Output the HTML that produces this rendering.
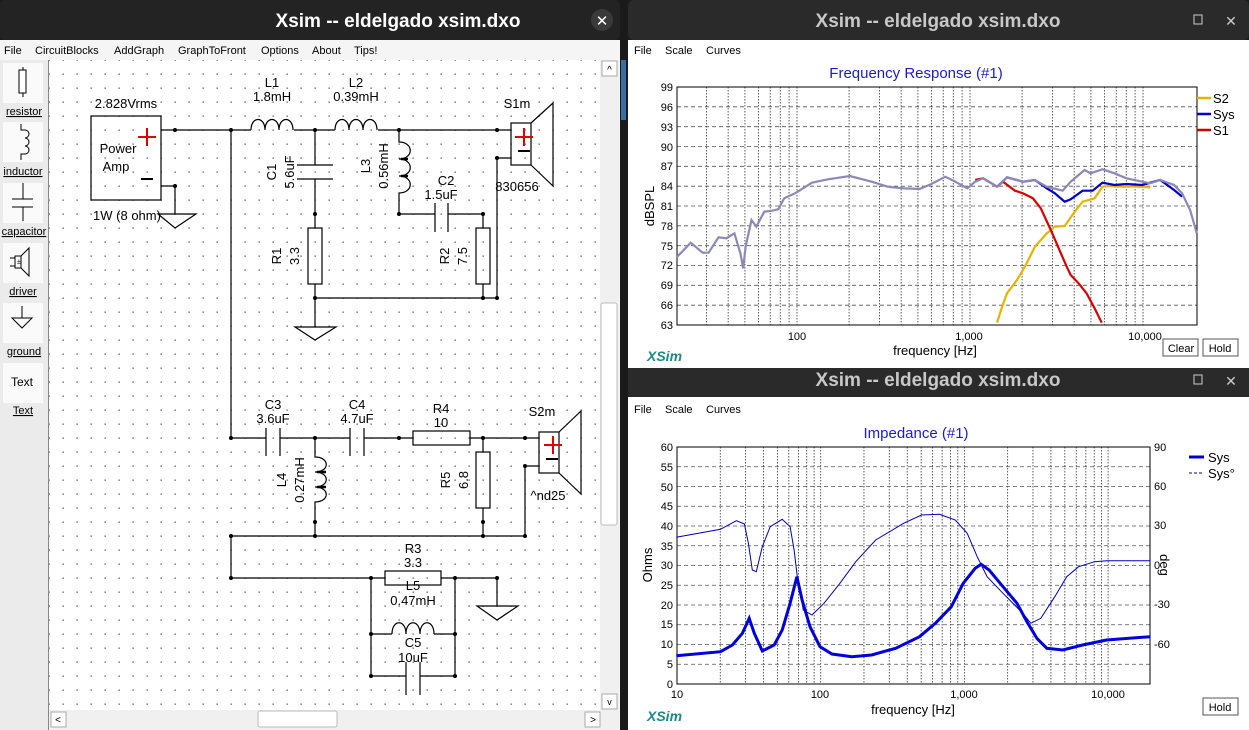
<!DOCTYPE html>
<html><head><meta charset="utf-8"><style>
html,body{margin:0;padding:0;background:#1c1c1c;width:1249px;height:730px;overflow:hidden}
svg{display:block}
text{font-family:"Liberation Sans",sans-serif}
</style></head><body>
<svg id="s" width="1249" height="730" xmlns="http://www.w3.org/2000/svg">
<defs>
<pattern id="dots" x="0" y="0" width="14" height="14" patternUnits="userSpaceOnUse">
<rect x="6.5" y="3.5" width="1.3" height="1.3" fill="#555"/>
</pattern>
</defs>
<!-- desktop gap -->
<rect x="619" y="0" width="10" height="730" fill="#1a1a1a"/>
<rect x="621" y="60" width="5" height="60" fill="#3a6ea0"/>
<!-- LEFT WINDOW -->
<rect x="0" y="0" width="620" height="40" fill="#232323" rx="6"/>
<text x="398" y="27" font-size="19" font-weight="bold" fill="#fff" text-anchor="middle">Xsim -- eldelgado xsim.dxo</text>
<circle cx="602" cy="20" r="11" fill="#3a3a3a"/>
<text x="602" y="26" font-size="15" fill="#fff" text-anchor="middle">✕</text>
<rect x="0" y="40" width="620" height="690" fill="#f5f5f5"/>
<g font-size="11" fill="#000">
<text x="4" y="54">File</text><text x="35" y="54">CircuitBlocks</text><text x="114" y="54">AddGraph</text>
<text x="178" y="54">GraphToFront</text><text x="261" y="54">Options</text><text x="312" y="54">About</text><text x="354" y="54">Tips!</text>
</g>
<!-- toolbox -->
<rect x="0" y="60" width="48" height="670" fill="#ebebeb"/>
<line x1="48.5" y1="60" x2="48.5" y2="730" stroke="#888"/>
<g fill="#fafafa"><rect x="3" y="63" width="40" height="40"/><rect x="3" y="122" width="40" height="40"/><rect x="3" y="183" width="40" height="40"/><rect x="3" y="243" width="40" height="40"/><rect x="3" y="303" width="40" height="40"/><rect x="3" y="363" width="40" height="40"/></g>
<g stroke="#000" fill="none" stroke-width="1">
<line x1="23" y1="67" x2="23" y2="97"/><rect x="19" y="70" width="7" height="23" fill="#fff"/>
<path d="M21 124 v6 h4 a4 4 0 0 1 0 8 a4 4 0 0 1 0 8 a4 4 0 0 1 0 8 h-4 v6"/>
<line x1="23" y1="183" x2="23" y2="199"/><line x1="12" y1="199" x2="33" y2="199"/><line x1="12" y1="207" x2="33" y2="207"/><line x1="23" y1="207" x2="23" y2="221"/>
<rect x="15" y="256" width="6" height="12"/><path d="M21 256 l8 -8 v28 l-8 -8"/><line x1="10" y1="258" x2="15" y2="258"/><line x1="10" y1="266" x2="15" y2="266"/>
<line x1="22" y1="306" x2="22" y2="318"/><path d="M12 318 h20 l-10 10 z"/>
</g>
<text x="17" y="264" font-size="7">±</text>
<g font-size="11" fill="#000" text-anchor="middle" text-decoration="underline">
<text x="24" y="115">resistor</text><text x="23" y="175">inductor</text><text x="24" y="235">capacitor</text><text x="23" y="295">driver</text><text x="24" y="355">ground</text><text x="23" y="414">Text</text>
</g>
<text x="22" y="386" font-size="12" text-anchor="middle">Text</text>
<!-- canvas -->
<rect x="49" y="60" width="551" height="650" fill="#fff"/>
<rect x="49" y="60" width="551" height="650" fill="url(#dots)"/>
<!-- scrollbars -->
<rect x="600" y="60" width="19" height="650" fill="#f0f0f0"/>
<rect x="602" y="61" width="15" height="15" fill="#fff" stroke="#aaa"/><text x="609.5" y="73" font-size="10" text-anchor="middle">^</text>
<rect x="601" y="303" width="16" height="222" fill="#fff" stroke="#bbb" rx="2"/>
<rect x="602" y="694" width="15" height="15" fill="#fff" stroke="#aaa"/><text x="609.5" y="705" font-size="9" text-anchor="middle">v</text>
<rect x="49" y="710" width="570" height="19" fill="#f0f0f0"/>
<rect x="51" y="712" width="15" height="15" fill="#fff" stroke="#aaa"/><text x="58" y="723" font-size="10" text-anchor="middle">&lt;</text>
<rect x="585" y="712" width="15" height="15" fill="#fff" stroke="#aaa"/><text x="593" y="723" font-size="10" text-anchor="middle">&gt;</text>
<rect x="258" y="711" width="79" height="16" fill="#fff" stroke="#bbb" rx="2"/>
<!-- schematic -->
<g stroke="#000" stroke-width="1.2" fill="none">
<rect x="91" y="116" width="70" height="84"/>
<path d="M161 130 H251 M294 130 H335 M378 130 H511"/>
<path d="M251 130 c0 -14 14 -14 14 0 c0 -14 14 -14 14 0 c0 -14 14 -14 14 0"/>
<path d="M335 130 c0 -14 14 -14 14 0 c0 -14 14 -14 14 0 c0 -14 14 -14 14 0"/>
<path d="M161 186 H175 V214 M158 214 H196 L175 228 Z"/>
<path d="M231 130 V438"/>
<path d="M315 130 V165 M297 165 H333 M297 179 H333 M315 179 V228 M315 284 V327 M295 327 H336 L315 340 Z"/>
<rect x="308" y="228" width="14" height="56"/>
<path d="M399 130 V142 c15 0 15 17 0 17 c15 0 15 17 0 17 c15 0 15 17 0 17 V214 H435 M448 214 H483 V228 M483 284 V298"/>
<path d="M401 159 H408 M401 176 H408" stroke-width="2.5"/>
<path d="M435 203 V232 M448 203 V232"/>
<rect x="476" y="228" width="14" height="56"/>
<path d="M315 298 H497 V158 H511"/>
<rect x="511" y="123" width="20" height="42"/><path d="M531 123 L553 103 V186 L531 165"/>
<!-- lower -->
<path d="M231 438 H266 M280 438 H350 M364 438 H413 M470 438 H539 M266 428 V456 M280 428 V456 M350 428 V456 M364 428 V456"/>
<rect x="413" y="431" width="57" height="14"/>
<path d="M315 438 V457 c15 0 15 15 0 15 c15 0 15 15 0 15 c15 0 15 15 0 15 V536"/>
<path d="M317 472 H326 M317 487 H326" stroke-width="2.5"/>
<path d="M483 438 V452 M483 508 V536"/><rect x="476" y="452" width="14" height="56"/>
<rect x="539" y="432" width="20" height="41"/><path d="M559 432 L581 411 V494 L559 473"/>
<path d="M539 466 H525 V536 H231 V578 H385 M441 578 H497 V606 M477 606 H518 L497 620 Z"/>
<rect x="385" y="571" width="56" height="14"/>
<path d="M371 578 V676 H406 M420 676 H455 V578 M371 634 H392 M434 634 H455 M406 662 V695 M420 662 V695"/>
<path d="M392 634 c0 -15 14 -15 14 0 c0 -15 14 -15 14 0 c0 -15 14 -15 14 0"/>
</g>
<g fill="#000">
<circle cx="175" cy="130" r="2"/><circle cx="231" cy="130" r="2"/><circle cx="315" cy="130" r="2"/><circle cx="399" cy="130" r="2"/><circle cx="497" cy="130" r="2"/><circle cx="497" cy="158" r="2"/><circle cx="175" cy="186" r="2"/>
<circle cx="315" cy="214" r="2"/><circle cx="399" cy="214" r="2"/><circle cx="483" cy="214" r="2"/><circle cx="315" cy="298" r="2"/><circle cx="483" cy="298" r="2"/><circle cx="497" cy="298" r="2"/>
<circle cx="231" cy="438" r="2"/><circle cx="315" cy="438" r="2"/><circle cx="399" cy="438" r="2"/><circle cx="483" cy="438" r="2"/><circle cx="525" cy="438" r="2"/><circle cx="525" cy="466" r="2"/>
<circle cx="315" cy="522" r="2"/><circle cx="483" cy="522" r="2"/><circle cx="231" cy="536" r="2"/><circle cx="315" cy="536" r="2"/><circle cx="483" cy="536" r="2"/><circle cx="525" cy="536" r="2"/>
<circle cx="231" cy="578" r="2"/><circle cx="371" cy="578" r="2"/><circle cx="455" cy="578" r="2"/><circle cx="497" cy="578" r="2"/><circle cx="371" cy="634" r="2"/><circle cx="455" cy="634" r="2"/><circle cx="371" cy="676" r="2"/><circle cx="455" cy="676" r="2"/>
</g>
<g stroke="#e00000" stroke-width="2"><path d="M147 128 V146 M138 137 H156 M524 128 V146 M515 137 H533 M553 436 V454 M544 445 H562"/></g>
<g stroke="#000" stroke-width="2"><path d="M141 179 H153 M518 151 H530 M546 459 H558"/></g>
<g font-size="13" fill="#000" text-anchor="middle">
<text x="126" y="108">2.828Vrms</text><text x="118" y="153">Power</text><text x="116" y="171">Amp</text><text x="127" y="220">1W (8 ohm)</text>
<text x="272" y="87">L1</text><text x="272" y="101">1.8mH</text><text x="356" y="87">L2</text><text x="356" y="101">0.39mH</text>
<text x="517" y="108">S1m</text><text x="517" y="191">830656</text>
<text x="446" y="185">C2</text><text x="441" y="199">1.5uF</text>
<text x="273" y="409">C3</text><text x="273" y="423">3.6uF</text><text x="357" y="409">C4</text><text x="357" y="423">4.7uF</text>
<text x="441" y="413">R4</text><text x="441" y="427">10</text><text x="542" y="416">S2m</text><text x="548" y="500">^nd25</text>
<text x="413" y="553">R3</text><text x="413" y="567">3.3</text><text x="413" y="590">L5</text><text x="413" y="605">0.47mH</text><text x="413" y="647">C5</text><text x="413" y="662">10uF</text>
<text transform="translate(276,172) rotate(-90)">C1</text><text transform="translate(294,172) rotate(-90)">5.6uF</text>
<text transform="translate(370,166) rotate(-90)">L3</text><text transform="translate(388,166) rotate(-90)">0.56mH</text>
<text transform="translate(281,256) rotate(-90)">R1</text><text transform="translate(299,256) rotate(-90)">3.3</text>
<text transform="translate(449,256) rotate(-90)">R2</text><text transform="translate(467,256) rotate(-90)">7.5</text>
<text transform="translate(286,480) rotate(-90)">L4</text><text transform="translate(304,480) rotate(-90)">0.27mH</text>
<text transform="translate(450,480) rotate(-90)">R5</text><text transform="translate(468,480) rotate(-90)">6.8</text>
</g>

<!-- RIGHT TOP WINDOW -->
<rect x="628" y="0" width="621" height="40" fill="#2a2a2a" rx="6"/>
<text x="938" y="27" font-size="19" font-weight="bold" fill="#c8c8c8" text-anchor="middle">Xsim -- eldelgado xsim.dxo</text>
<rect x="1194" y="15" width="8" height="9" fill="none" stroke="#ccc"/><text x="1231" y="26" font-size="14" fill="#ccc" text-anchor="middle">✕</text>
<rect x="628" y="40" width="621" height="328" fill="#fff"/>
<g font-size="11" fill="#000"><text x="634" y="54">File</text><text x="665" y="54">Scale</text><text x="706" y="54">Curves</text></g>
<text x="916" y="78" font-size="15" fill="#1c1ccc" text-anchor="middle">Frequency Response (#1)</text>
<g id="fgrid"></g>
<rect x="677" y="87" width="520" height="238" fill="none" stroke="#000"/>
<g font-size="11" fill="#000" text-anchor="end">
<text x="673" y="91">99</text><text x="673" y="111">96</text><text x="673" y="131">93</text><text x="673" y="151">90</text><text x="673" y="170">87</text><text x="673" y="190">84</text><text x="673" y="210">81</text><text x="673" y="230">78</text><text x="673" y="250">75</text><text x="673" y="269">72</text><text x="673" y="289">69</text><text x="673" y="309">66</text><text x="673" y="329">63</text>
</g>
<g font-size="11" fill="#000" text-anchor="middle"><text x="797" y="340">100</text><text x="969" y="340">1,000</text><text x="1145" y="340">10,000</text></g>
<text x="935" y="355" font-size="13" text-anchor="middle">frequency [Hz]</text>
<text transform="translate(654,206) rotate(-90)" font-size="13" text-anchor="middle">dBSPL</text>
<text x="647" y="361" font-size="14" font-weight="bold" font-style="italic" fill="#1a8a8a">XSim</text>
<g stroke-width="2.5"><line x1="1197" y1="98" x2="1211" y2="98" stroke="#e8b400"/><line x1="1197" y1="114" x2="1211" y2="114" stroke="#0000cc"/><line x1="1197" y1="130" x2="1211" y2="130" stroke="#cc0000"/></g>
<g font-size="13" fill="#000"><text x="1213" y="103">S2</text><text x="1213" y="119">Sys</text><text x="1213" y="135">S1</text></g>
<g font-size="11" text-anchor="middle"><rect x="1163" y="339" width="35" height="17" fill="#fff" stroke="#555"/><text x="1181" y="352">Clear</text>
<rect x="1203" y="339" width="35" height="17" fill="#fff" stroke="#555"/><text x="1220" y="352">Hold</text></g>
<g id="fcurves"></g>

<!-- RIGHT BOTTOM WINDOW -->
<rect x="628" y="368" width="621" height="29" fill="#2a2a2a"/>
<text x="938" y="386" font-size="19" font-weight="bold" fill="#c8c8c8" text-anchor="middle">Xsim -- eldelgado xsim.dxo</text>
<rect x="1194" y="375" width="8" height="9" fill="none" stroke="#ccc"/><text x="1231" y="386" font-size="14" fill="#ccc" text-anchor="middle">✕</text>
<rect x="628" y="397" width="621" height="333" fill="#fff"/>
<g font-size="11" fill="#000"><text x="634" y="413">File</text><text x="665" y="413">Scale</text><text x="706" y="413">Curves</text></g>
<text x="916" y="438" font-size="15" fill="#1c1ccc" text-anchor="middle">Impedance (#1)</text>
<g id="igrid"></g>
<rect x="677" y="447" width="473" height="237" fill="none" stroke="#000"/>
<g font-size="11" fill="#000" text-anchor="end">
<text x="673" y="451">60</text><text x="673" y="471">55</text><text x="673" y="491">50</text><text x="673" y="510">45</text><text x="673" y="530">40</text><text x="673" y="550">35</text><text x="673" y="569">30</text><text x="673" y="589">25</text><text x="673" y="609">20</text><text x="673" y="628">15</text><text x="673" y="648">10</text><text x="673" y="668">5</text><text x="673" y="688">0</text>
</g>
<g font-size="11" fill="#000"><text x="1154" y="451">90</text><text x="1154" y="490">60</text><text x="1154" y="529">30</text><text x="1154" y="569">0</text><text x="1154" y="608">-30</text><text x="1154" y="648">-60</text></g>
<g font-size="11" fill="#000" text-anchor="middle"><text x="677" y="698">10</text><text x="820" y="698">100</text><text x="964" y="698">1,000</text><text x="1108" y="698">10,000</text></g>
<text x="913" y="714" font-size="13" text-anchor="middle">frequency [Hz]</text>
<text transform="translate(652,565) rotate(-90)" font-size="13" text-anchor="middle">Ohms</text>
<text transform="translate(1160,565) rotate(90)" font-size="13" text-anchor="middle">deg</text>
<text x="647" y="721" font-size="14" font-weight="bold" font-style="italic" fill="#1a8a8a">XSim</text>
<line x1="1189" y1="457" x2="1204" y2="457" stroke="#0000cc" stroke-width="3"/>
<line x1="1189" y1="473" x2="1204" y2="473" stroke="#0000aa" stroke-width="1" stroke-dasharray="3,2"/>
<g font-size="13" fill="#000"><text x="1208" y="462">Sys</text><text x="1208" y="478">Sys°</text></g>
<rect x="1203" y="698" width="35" height="17" fill="#fff" stroke="#555"/><text x="1220" y="711" font-size="11" text-anchor="middle">Hold</text>
<g id="icurves"></g>
</svg>
<script>
var NS="http://www.w3.org/2000/svg";
function el(p,t,a){var e=document.createElementNS(NS,t);for(var k in a)e.setAttribute(k,a[k]);p.appendChild(e);return e;}
// freq grid
var fg=document.getElementById("fgrid");
var fx=function(f){return 797+(Math.log10(f)-2)*173;};
[20,30,40,50,60,70,80,90,100,200,300,400,500,600,700,800,900,1000,2000,3000,4000,5000,6000,7000,8000,9000,10000].forEach(function(f){var x=fx(f);if(x>678&&x<1196)el(fg,"line",{x1:x,y1:87,x2:x,y2:325,stroke:"#333","stroke-width":"0.8","stroke-dasharray":"1.5,1.5"});});
for(var i=1;i<12;i++){var y=87+i*238/12;el(fg,"line",{x1:677,y1:y,x2:1197,y2:y,stroke:"#555","stroke-width":"0.8","stroke-dasharray":"4,3"});}
var ig=document.getElementById("igrid");
var ix=function(f){return 677+(Math.log10(f)-1)*143.7;};
[20,30,40,50,60,70,80,90,100,200,300,400,500,600,700,800,900,1000,2000,3000,4000,5000,6000,7000,8000,9000,10000].forEach(function(f){var x=ix(f);el(ig,"line",{x1:x,y1:447,x2:x,y2:684,stroke:"#333","stroke-width":"0.8","stroke-dasharray":"1.5,1.5"});});
for(var i=1;i<12;i++){var y=447+i*237/12;el(ig,"line",{x1:677,y1:y,x2:1150,y2:y,stroke:"#555","stroke-width":"0.8","stroke-dasharray":"4,3"});}
function pts(a,oy){var s=[];for(var i=0;i<a.length;i+=2)s.push((625+a[i]/2.513).toFixed(1)+","+(oy+a[i+1]/3).toFixed(1));return s.join(" ");}
var fc=document.getElementById("fcurves");
var blue=[935,560,960,532,1000,545,1030,540,1060,565,1080,580,1105,605,1120,598,1150,572,1175,572,1200,548,1230,555,1260,552,1300,555,1320,548,1345,540,1380,570,1400,590];
var gray=[130,772,165,728,195,758,210,758,235,712,255,715,275,700,290,760,297,805,303,740,318,660,330,680,350,635,370,632,385,628,400,595,430,578,470,548,510,538,565,528,620,545,660,560,700,565,740,567,770,552,805,530,830,545,860,565,880,545,900,535,935,560,960,532,1000,545,1030,540,1060,560,1100,572,1120,545,1155,510,1170,520,1200,508,1230,520,1260,535,1300,545,1320,550,1345,540,1380,555,1400,580,1420,630,1437,700];
var red=[880,540,900,535,935,560,950,545,980,572,1000,580,1025,595,1045,625,1070,690,1090,745,1110,800,1120,825,1140,850,1160,880,1180,925,1198,968];
var yel=[935,968,945,930,960,880,985,840,1005,800,1030,740,1060,700,1080,680,1105,678,1130,635,1150,605,1180,595,1200,560,1215,558,1240,560,1280,560,1320,562];
el(fc,"polyline",{points:pts(yel,0),fill:"none",stroke:"#e8b400","stroke-width":"2.2"});
el(fc,"polyline",{points:pts(red,0),fill:"none",stroke:"#dd0000","stroke-width":"2.2"});
el(fc,"polyline",{points:pts(blue,0),fill:"none",stroke:"#0000cc","stroke-width":"2.2"});
el(fc,"polyline",{points:pts(gray,0),fill:"none",stroke:"#8c88b8","stroke-width":"2.2"});
var ic=document.getElementById("icurves");
var imp=[129,857,240,845,270,825,295,790,312,745,325,790,345,843,375,825,395,780,415,700,432,620,445,690,465,770,490,830,520,852,570,860,620,855,680,835,740,800,780,760,820,710,850,640,880,595,895,583,915,600,950,650,985,700,1010,755,1035,805,1060,835,1100,840,1150,825,1210,810,1320,800];
var ph=[129,502,240,478,280,452,300,462,310,520,320,600,330,605,345,530,365,470,395,448,415,470,425,540,433,620,448,720,470,735,500,700,540,640,580,575,630,510,700,460,745,435,790,433,830,450,860,490,885,560,910,620,950,670,1000,730,1020,760,1045,745,1080,680,1110,620,1140,590,1180,575,1210,572,1320,572];
el(ic,"polyline",{points:pts(ph,370),fill:"none",stroke:"#0000bb","stroke-width":"1"});
el(ic,"polyline",{points:pts(imp,370),fill:"none",stroke:"#0000dd","stroke-width":"3"});
</script>
</body></html>
